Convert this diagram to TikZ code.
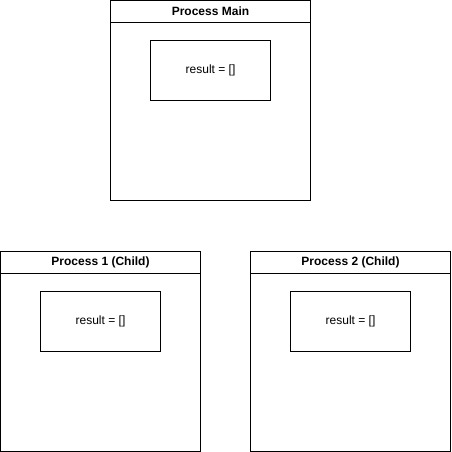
\documentclass[tikz,border=0pt]{standalone}
\usepackage{fontspec}
\setmainfont{Liberation Sans}
\usetikzlibrary{positioning}

\begin{document}
\begin{tikzpicture}[
  x=0.75pt, y=-0.75pt,
  every node/.style={font=\fontsize{9}{11}\selectfont, line width=0.75pt},
  pbox/.style={rectangle, draw=black, minimum width=150pt, minimum height=150pt, inner sep=0pt},
  hbox/.style={rectangle, draw=black, minimum width=150pt, minimum height=16.5pt, inner sep=0pt, font=\fontsize{9}{11}\selectfont\bfseries},
  vbox/.style={rectangle, draw=black, minimum width=90pt, minimum height=45pt, inner sep=0pt},
]
\useasboundingbox (0,0) rectangle (451,452);

% Main process
\node[pbox] (pm) at (210.5,100.5) {};
\node[hbox] (pmh) at (210.5,11.5) {Process Main};
\node[vbox] (pmv) at (210.5,70.5) {result = []};

% Child processes
\node[pbox] (p1) at (100.5,351) {};
\node[hbox] (p1h) at (100.5,262) {Process 1 (Child)};
\node[vbox] (p1v) at (100.5,321) {result = []};

\node[pbox] (p2) at (350.5,351) {};
\node[hbox] (p2h) at (350.5,262) {Process 2 (Child)};
\node[vbox] (p2v) at (350.5,321) {result = []};

\end{tikzpicture}
\end{document}
